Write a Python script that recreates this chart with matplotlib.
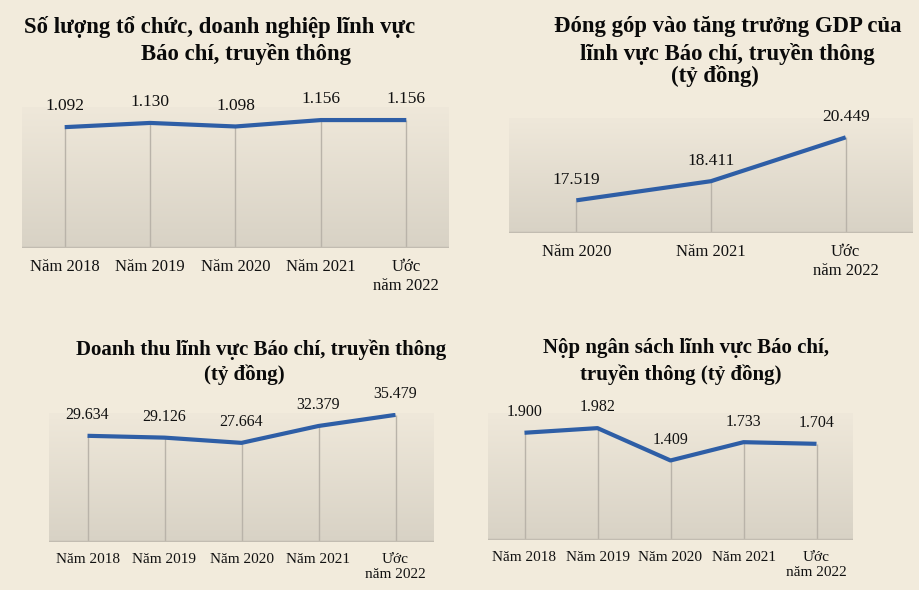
import numpy as np
import matplotlib.pyplot as plt
from matplotlib.colors import LinearSegmentedColormap

plt.rcParams['font.family'] = ['Liberation Serif', 'DejaVu Serif']

years5 = ["Năm 2018", "Năm 2019", "Năm 2020", "Năm 2021", "Ước\nnăm 2022"]
years3 = ["Năm 2020", "Năm 2021", "Ước\nnăm 2022"]

so_luong = [1.092, 1.130, 1.098, 1.156, 1.156]
so_luong_lbl = ["1.092", "1.130", "1.098", "1.156", "1.156"]

gdp = [17.519, 18.411, 20.449]
gdp_lbl = ["17.519", "18.411", "20.449"]

doanh_thu = [29.634, 29.126, 27.664, 32.379, 35.479]
doanh_thu_lbl = ["29.634", "29.126", "27.664", "32.379", "35.479"]

ngan_sach = [1.900, 1.982, 1.409, 1.733, 1.704]
ngan_sach_lbl = ["1.900", "1.982", "1.409", "1.733", "1.704"]

BG = "#f2ebdc"
LINE = "#2e5ea6"
W, H = 920, 590

grad = LinearSegmentedColormap.from_list("g", ["#d8d2c5", "#efe8da"])

fig = plt.figure(figsize=(W / 100, H / 100), dpi=100)
fig.patch.set_facecolor(BG)


def px_axes(x0, y0, x1, y1):
    return fig.add_axes([x0 / W, 1 - y1 / H, (x1 - x0) / W, (y1 - y0) / H])


def panel(rect, labels, vals, vlbl, ylim, fs):
    ax = px_axes(*rect)
    x = np.arange(len(vals))
    xlim = (-0.5, len(vals) - 0.5)
    ax.set_xlim(xlim)
    ax.set_ylim(ylim)
    g = np.linspace(0, 1, 256).reshape(-1, 1)
    ax.imshow(g, cmap=grad, extent=[xlim[0], xlim[1], ylim[0], ylim[1]],
              aspect="auto", origin="lower", zorder=0)
    ax.vlines(x, ylim[0], vals, color="#b9b3a9", lw=1, zorder=1)
    ax.axhline(ylim[0], color="#c2bcb1", lw=2.5, zorder=2)
    ax.plot(x, vals, color=LINE, lw=3, solid_capstyle="butt", zorder=3)
    for xi, v, t in zip(x, vals, vlbl):
        ax.annotate(t, (xi, v), xytext=(0, 12), textcoords="offset points",
                    ha="center", va="baseline", fontsize=fs, color="#111111")
    ax.set_xticks(x, labels, fontsize=fs - 0.5)
    ax.tick_params(axis="x", length=0, pad=8, colors="#111111")
    ax.set_yticks([])
    for s in ax.spines.values():
        s.set_visible(False)
    ax.set_facecolor("none")
    return ax


panel((22, 107, 449, 248), years5, so_luong, so_luong_lbl, (0, 1.274), 12.5)
panel((509, 118, 913, 233), years3, gdp, gdp_lbl, (16, 21.35), 12.5)
panel((49, 413, 434, 542), years5, doanh_thu, doanh_thu_lbl, (0, 36.0), 11.5)
panel((488, 413, 853, 540), years5, ngan_sach, ngan_sach_lbl, (0, 2.25), 11.5)


def title(cx, base, txt, fs):
    fig.text(cx / W, 1 - base / H, txt, ha="center", va="baseline",
             fontsize=fs, fontweight="bold", color="#0a0a0a")


title(220, 33, "Số lượng tổ chức, doanh nghiệp lĩnh vực", 16.4)
title(246, 60, "Báo chí, truyền thông", 16.4)
title(728, 32, "Đóng góp vào tăng trưởng GDP của", 16.4)
title(727, 60, "lĩnh vực Báo chí, truyền thông", 16.4)
title(715, 82, "(tỷ đồng)", 16.4)
title(261, 355, "Doanh thu lĩnh vực Báo chí, truyền thông", 15)
title(244, 380, "(tỷ đồng)", 15)
title(686, 353, "Nộp ngân sách lĩnh vực Báo chí,", 15)
title(681, 380, "truyền thông (tỷ đồng)", 15)

fig.savefig("out.png", dpi=100, facecolor=BG)
